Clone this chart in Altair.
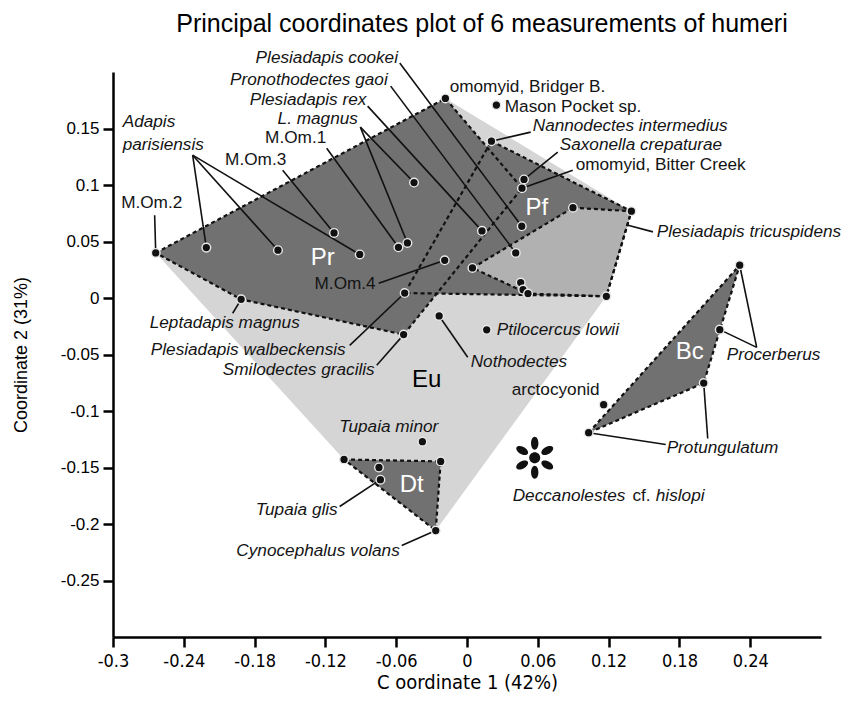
import math
import altair as alt
import pandas as pd

# ---------------- data: specimens (Coordinate 1, Coordinate 2) ----------------
point_id = ["MOm2", "Adapis1", "Adapis2", "Adapis3", "MOm3", "MOm1", "Lmag1", "Lmag2",
            "omoBridger", "Mason", "Nannodectes", "Saxonella", "omoBitter", "Prex",
            "Pcookei", "Pgaoi", "PfA", "Ptricusp", "PfB", "MOm4", "PfD", "Pwalb",
            "PfE1", "PfE2", "PfC", "Leptadapis", "Smilodectes", "Nothodectes",
            "Ptilocercus", "Tminor", "DtLeft", "DtRight", "Tglis1", "Tglis2",
            "Cynocephalus", "arctocyonid", "Protung1", "Protung2", "Procer1", "Procer2"]
point_x = [-0.2638, -0.2209, -0.1602, -0.0909, -0.1127, -0.0581, -0.0505, -0.0449,
           -0.0183, 0.0249, 0.0207, 0.0483, 0.0466, 0.0127,
           0.0464, 0.0413, 0.0898, 0.1393, 0.1181, -0.0189, 0.0046, -0.0528,
           0.0455, 0.0475, 0.0517, -0.1914, -0.0537, -0.0236,
           0.0167, -0.0378, -0.1042, -0.0223, -0.0746, -0.0734,
           -0.0265, 0.1158, 0.1031, 0.2006, 0.2311, 0.2142]
point_y = [0.0399, 0.0446, 0.0423, 0.0385, 0.0576, 0.0449, 0.0487, 0.1022,
           0.1766, 0.1707, 0.1388, 0.1049, 0.0972, 0.0594,
           0.0635, 0.0399, 0.0799, 0.0768, 0.0015, 0.0334, 0.0266, 0.0044,
           0.0137, 0.0074, 0.0039, -0.0012, -0.0324, -0.0159,
           -0.0282, -0.1272, -0.1429, -0.1446, -0.1500, -0.1608,
           -0.2058, -0.0944, -0.1192, -0.0753, 0.0290, -0.0280]

# Deccanolestes cf. hislopi (asterisk)
decc_x = [0.0574]
decc_y = [-0.1414]

# convex hulls (vertex order)
poly_names = ["Eu", "Pr", "Pf", "Pf2", "Dt", "Bc"]
poly_vertices = [
    ["MOm2", "omoBridger", "Ptricusp", "PfB", "Cynocephalus", "DtLeft"],
    ["MOm2", "omoBridger", "omoBitter", "Smilodectes", "Leptadapis"],
    ["Nannodectes", "Ptricusp", "PfB", "Pwalb"],
    ["PfA", "Ptricusp", "PfB", "PfC", "PfD"],
    ["DtLeft", "DtRight", "Cynocephalus"],
    ["Protung1", "Procer1", "Protung2"],
]
poly_fill = ["#d5d5d5", "#717171", "#717171", "#b1b1b1", "#717171", "#717171"]
poly_dashed = [False, True, True, True, True, True]

# labels
label_text = ["Plesiadapis cookei", "Pronothodectes gaoi", "Plesiadapis rex", "L. magnus",
              "M.Om.1", "M.Om.3", "Adapis", "parisiensis", "M.Om.2", "M.Om.4",
              "Leptadapis magnus", "Plesiadapis walbeckensis", "Smilodectes gracilis",
              "Nothodectes", "Ptilocercus lowii", "Tupaia minor", "Tupaia glis",
              "Cynocephalus volans", "omomyid, Bridger B.", "Mason Pocket sp.",
              "Nannodectes intermedius", "Saxonella crepaturae", "omomyid, Bitter Creek",
              "Plesiadapis tricuspidens", "Procerberus", "Protungulatum", "arctocyonid",
              "Deccanolestes", "cf.", "hislopi"]
label_x = [-0.0585, -0.0672, -0.0853, -0.1265,
           -0.1452, -0.1791, -0.2918, -0.2918, -0.2672, -0.0774,
           -0.2053, -0.1028, -0.0782,
           0.0031, 0.0252, -0.0663, -0.1096,
           -0.0570, -0.0147, 0.0320,
           0.0557, 0.0786, 0.0921,
           0.1608, 0.2201, 0.1692, 0.0379,
           0.0387, 0.1402, 0.1600]
label_y = [0.2123, 0.1928, 0.1751, 0.1585,
           0.1415, 0.1220, 0.1556, 0.1353, 0.0839, 0.0121,
           -0.0224, -0.0463, -0.0640,
           -0.0570, -0.0286, -0.1145, -0.1880,
           -0.2235, 0.1866, 0.1689,
           0.1521, 0.1353, 0.1175,
           0.0582, -0.0508, -0.1331, -0.0818,
           -0.1748, -0.1748, -0.1748]
label_italic = [True, True, True, True,
                False, False, True, True, False, False,
                True, True, True,
                True, True, True, True,
                True, False, False,
                True, True, False,
                True, True, True, False,
                True, False, True]
label_align = ["right", "right", "right", "center",
               "center", "center", "left", "left", "center", "right",
               "center", "right", "right",
               "left", "left", "center", "right",
               "right", "left", "left",
               "left", "left", "left",
               "left", "left", "left", "left",
               "left", "left", "left"]

# group names
group_text = ["Pr", "Pf", "Dt", "Bc", "Eu"]
group_x = [-0.1223, 0.0591, -0.0469, 0.1887, -0.0342]
group_y = [0.0352, 0.0795, -0.1659, -0.0481, -0.0729]
group_color = ["white", "white", "white", "white", "black"]

# leader lines: start (near label) -> specimen
leader_x1 = [-0.0570, -0.0647, -0.0842, -0.0904, -0.0904, -0.1189, -0.1562,
             -0.2325, -0.2325, -0.2325, -0.2647, -0.0748, -0.1986, -0.0994,
             -0.0765, 0.0006, -0.1079, -0.0553, 0.2455, 0.2455, 0.1684, 0.2040,
             0.0540, 0.0769, 0.0896]
leader_y1 = [0.2079, 0.1875, 0.1698, 0.1512, 0.1512, 0.1326, 0.1131,
             0.1264, 0.1264, 0.1264, 0.0733, 0.0130, -0.0135, -0.0419,
             -0.0596, -0.0525, -0.1845, -0.2191, -0.0437, -0.0437, -0.1296, -0.1243,
             0.1468, 0.1291, 0.1131]
leader_to = ["Pcookei", "Pgaoi", "Prex", "Lmag2", "Lmag1", "MOm1", "MOm3",
             "Adapis1", "Adapis2", "Adapis3", "MOm2", "MOm4", "Leptadapis", "Pwalb",
             "Smilodectes", "Nothodectes", "Tglis2", "Cynocephalus", "Procer1", "Procer2",
             "Protung1", "Protung2", "Nannodectes", "Saxonella", "omoBitter"]
# short leader of P. tricuspidens
tric_x = [0.1364, 0.1576]
tric_y = [0.0644, 0.0585]

x_ticks = [-0.3, -0.24, -0.18, -0.12, -0.06, 0, 0.06, 0.12, 0.18, 0.24]
y_ticks = [0.15, 0.1, 0.05, 0, -0.05, -0.1, -0.15, -0.2, -0.25]

# ---------------- build tables ----------------
pts = pd.DataFrame({"id": point_id, "x": point_x, "y": point_y})
idx = {p: i for i, p in enumerate(point_id)}

def poly_df(k):
    verts = poly_vertices[k] + [poly_vertices[k][0]]
    return pd.DataFrame({
        "poly": poly_names[k],
        "i": list(range(len(verts))),
        "x": [point_x[idx[v]] for v in verts],
        "y": [point_y[idx[v]] for v in verts],
    })

leaders = pd.DataFrame({
    "x": leader_x1 + [tric_x[0]],
    "y": leader_y1 + [tric_y[0]],
    "x2": [point_x[idx[t]] for t in leader_to] + [tric_x[1]],
    "y2": [point_y[idx[t]] for t in leader_to] + [tric_y[1]],
})

FONT = "Liberation Sans, Arial, Helvetica, sans-serif"
NARROW = "Liberation Sans Narrow, Arial Narrow, DejaVu Sans Condensed, sans-serif"

xscale = alt.Scale(domain=[-0.3, 0.3], nice=False, zero=False)
yscale = alt.Scale(domain=[-0.3, 0.2], nice=False, zero=False)
xaxis = alt.Axis(values=x_ticks, labelExpr="'' + datum.value", title="C oordinate 1 (42%)",
                 grid=False, domainColor="black", domainWidth=2.5, tickColor="black",
                 tickWidth=2.5, tickSize=10, labelFont=NARROW, labelFontSize=18,
                 labelColor="black", labelPadding=5, labelFlush=False, labelOverlap=False,
                 titleFont=NARROW, titleFontSize=20, titleFontWeight="normal",
                 titleColor="black", titlePadding=2)
yaxis = alt.Axis(values=y_ticks, labelExpr="'' + datum.value", title="Coordinate 2  (31%)",
                 grid=False, domainColor="black", domainWidth=2.5, tickColor="black",
                 tickWidth=2.5, tickSize=10, labelFont=FONT, labelFontSize=17,
                 labelColor="black", labelPadding=4, labelFlush=False, labelOverlap=False,
                 titleFont=FONT, titleFontSize=18, titleFontWeight="normal",
                 titleColor="black", titlePadding=30)

X = alt.X("x:Q", scale=xscale, axis=xaxis)
Y = alt.Y("y:Q", scale=yscale, axis=yaxis)

layers = []
# hull fills
for k in range(len(poly_names)):
    layers.append(
        alt.Chart(poly_df(k)).mark_line(fill=poly_fill[k], strokeWidth=0, strokeOpacity=0)
        .encode(x=X, y=Y, order=alt.Order("i:Q"))
    )
# dashed outlines
for k in range(len(poly_names)):
    if poly_dashed[k]:
        layers.append(
            alt.Chart(poly_df(k)).mark_line(color="#111111", strokeWidth=2.2,
                                            strokeDash=[4, 3])
            .encode(x=X, y=Y, order=alt.Order("i:Q"))
        )
# leader lines
layers.append(
    alt.Chart(leaders).mark_rule(color="#111111", strokeWidth=1.6)
    .encode(x=X, y=Y, x2="x2:Q", y2="y2:Q")
)
# specimens
layers.append(
    alt.Chart(pts).mark_point(filled=True, size=75, fill="#111111", stroke="#e8e8e8",
                              strokeWidth=1.4, opacity=1)
    .encode(x=X, y=Y)
)

# asterisk for Deccanolestes
R = 21.0
def petal(theta, d, a, b):
    t = math.radians(theta)
    ux, uy = math.cos(t), math.sin(t)
    cx, cy = d * ux, d * uy
    p1 = (cx + a * ux, cy + a * uy)
    p2 = (cx - a * ux, cy - a * uy)
    return (f"M{p1[0]:.4f},{p1[1]:.4f}A{a:.4f},{b:.4f},{theta},0,1,{p2[0]:.4f},{p2[1]:.4f}"
            f"A{a:.4f},{b:.4f},{theta},0,1,{p1[0]:.4f},{p1[1]:.4f}Z")
r0 = 5.5 / R
path = f"M{r0:.4f},0A{r0:.4f},{r0:.4f},0,1,1,{-r0:.4f},0A{r0:.4f},{r0:.4f},0,1,1,{r0:.4f},0Z"
for th in [90, 270, 30, 150, 210, 330]:
    path += petal(th, 14.5 / R, 6.5 / R, 3.7 / R)
layers.append(
    alt.Chart(pd.DataFrame({"x": decc_x, "y": decc_y}))
    .mark_point(shape=path, size=(2 * R) ** 2, filled=True, fill="#111111", strokeWidth=0, opacity=1)
    .encode(x=X, y=Y)
)

# labels
for it in [True, False]:
    for al in ["left", "center", "right"]:
        sel = [k for k in range(len(label_text))
               if label_italic[k] == it and label_align[k] == al]
        if not sel:
            continue
        sub = pd.DataFrame({"label": [label_text[k] for k in sel],
                            "x": [label_x[k] for k in sel],
                            "y": [label_y[k] for k in sel]})
        mk = dict(font=FONT, fontSize=17.2, color="#141414", align=al, baseline="middle")
        if it:
            mk["fontStyle"] = "italic"
        layers.append(
            alt.Chart(sub).mark_text(**mk).encode(x=X, y=Y, text="label:N")
        )
# group names
for col in ["white", "black"]:
    sel = [k for k in range(len(group_text)) if group_color[k] == col]
    sub = pd.DataFrame({"label": [group_text[k] for k in sel],
                        "x": [group_x[k] for k in sel],
                        "y": [group_y[k] for k in sel]})
    layers.append(
        alt.Chart(sub).mark_text(font=FONT, fontSize=24, color=col, align="center",
                                 baseline="middle")
        .encode(x=X, y=Y, text="label:N")
    )

chart = alt.layer(*layers).properties(
    width=708, height=565,
    padding={"left": 105, "top": 64, "right": 33, "bottom": 59},
    autosize="none",
    title=alt.TitleParams("Principal coordinates plot of 6 measurements of humeri",
                          font=FONT, fontSize=25, fontWeight="normal", color="black",
                          anchor="middle", dx=15, offset=12),
    background="white",
).configure_view(stroke=None)

chart.save("out.html", embed_options={"renderer": "svg", "actions": False})
